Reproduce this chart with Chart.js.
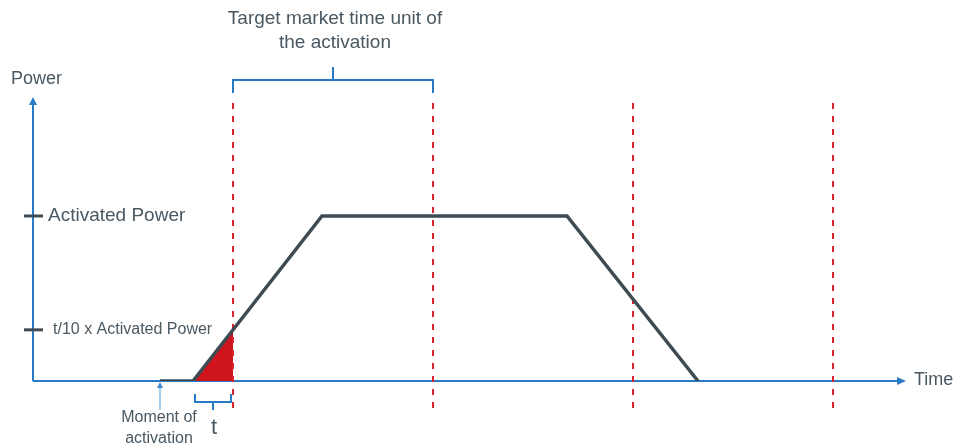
<!DOCTYPE html>
<html>
<head>
<meta charset="utf-8">
<script src="https://cdn.jsdelivr.net/npm/chart.js@4/dist/chart.umd.min.js"></script>
<style>
  html, body { margin: 0; padding: 0; background: #fff; }
  #wrap { width: 957px; height: 448px; }
</style>
</head>
<body>
<div id="wrap"><canvas id="diagram"></canvas></div>
<script>
// ===== Dados do diagrama (unidades de tempo / fração da potência ativada) =====
const timeUnitBounds = [1, 2, 3, 4];
const powerTime = [0.635, 0.8, 1.445, 2.67, 3.325];
const powerValue = [0, 0, 1, 1, 0];
const rampTime = [0.8, 1, 1];
const rampValue = [0, 0.31, 0];
const dashedRange = [-0.164, 1.685];
const levelValues = [1, 0.31];
const levelLabels = ['Activated Power', 't/10 x Activated Power'];
const activationTime = 0.635;
const targetUnit = [1, 2];
const tInterval = [0.81, 0.99];

const TEXT = '#4a5862';
const BLUE = '#2a7bc6';
const LINE = '#3e4b52';
const RED = '#d9232e';
const FONT = "'Liberation Sans', Arial, sans-serif";

function toPoints(xs, ys) {
    return xs.map((x, i) => ({ x: x, y: ys[i] }));
}

const datasets = [];

// Linha de potência
datasets.push({
    data: toPoints(powerTime, powerValue),
    borderColor: LINE,
    borderWidth: 3.5,
    pointRadius: 0,
    fill: false,
    order: 1
});

// Triângulo vermelho
datasets.push({
    data: toPoints(rampTime, rampValue),
    borderColor: 'rgba(0,0,0,0)',
    borderWidth: 0,
    backgroundColor: '#d0141e',
    pointRadius: 0,
    fill: 'origin',
    order: 3
});

// Linhas tracejadas verticais
timeUnitBounds.forEach(t => {
    datasets.push({
        data: [{ x: t, y: dashedRange[0] }, { x: t, y: dashedRange[1] }],
        borderColor: RED,
        borderWidth: 2,
        borderDash: [6, 7],
        pointRadius: 0,
        fill: false,
        clip: false,
        order: 2
    });
});

const diagramPlugin = {
    id: 'diagram',
    beforeDatasetsDraw(chart) {
        const ctx = chart.ctx;
        const a = chart.chartArea;
        ctx.save();
        ctx.strokeStyle = BLUE;
        ctx.fillStyle = BLUE;
        ctx.lineWidth = 2;
        // eixo y
        ctx.beginPath();
        ctx.moveTo(a.left, a.bottom);
        ctx.lineTo(a.left, a.top + 6);
        ctx.stroke();
        ctx.beginPath();
        ctx.moveTo(a.left, a.top);
        ctx.lineTo(a.left - 4, a.top + 8);
        ctx.lineTo(a.left + 4, a.top + 8);
        ctx.closePath();
        ctx.fill();
        // eixo x
        ctx.beginPath();
        ctx.moveTo(a.left, a.bottom);
        ctx.lineTo(a.right - 6, a.bottom);
        ctx.stroke();
        ctx.beginPath();
        ctx.moveTo(a.right + 1, a.bottom);
        ctx.lineTo(a.right - 8, a.bottom - 4);
        ctx.lineTo(a.right - 8, a.bottom + 4);
        ctx.closePath();
        ctx.fill();
        ctx.restore();
    },
    afterDatasetsDraw(chart) {
        const ctx = chart.ctx;
        const a = chart.chartArea;
        const xs = chart.scales.x;
        const ys = chart.scales.y;
        ctx.save();

        // marcas no eixo y + textos
        ctx.strokeStyle = LINE;
        ctx.lineWidth = 3;
        ctx.fillStyle = TEXT;
        ctx.textBaseline = 'middle';
        ctx.textAlign = 'left';
        levelValues.forEach((v, i) => {
            const py = ys.getPixelForValue(v);
            ctx.beginPath();
            ctx.moveTo(a.left - 9, py);
            ctx.lineTo(a.left + 10, py);
            ctx.stroke();
            ctx.font = (i === 0 ? '19px ' : '16px ') + FONT;
            ctx.fillText(levelLabels[i], a.left + (i === 0 ? 15 : 20), py);
        });

        // títulos dos eixos
        ctx.font = '18px ' + FONT;
        ctx.fillText('Power', 11, a.top - 18);
        ctx.fillText('Time', a.right + 9, a.bottom - 1);

        // chave superior
        const bx1 = xs.getPixelForValue(targetUnit[0]);
        const bx2 = xs.getPixelForValue(targetUnit[1]);
        const by = a.top - 17;
        ctx.strokeStyle = BLUE;
        ctx.lineWidth = 2;
        ctx.beginPath();
        ctx.moveTo(bx1, by + 13);
        ctx.lineTo(bx1, by);
        ctx.lineTo(bx2, by);
        ctx.lineTo(bx2, by + 13);
        ctx.moveTo((bx1 + bx2) / 2, by);
        ctx.lineTo((bx1 + bx2) / 2, by - 13);
        ctx.stroke();

        ctx.textAlign = 'center';
        ctx.font = '19px ' + FONT;
        ctx.fillText('Target market time unit of', (bx1 + bx2) / 2 + 2, 19);
        ctx.fillText('the activation', (bx1 + bx2) / 2 + 2, 43);

        // chave do t
        const tx1 = xs.getPixelForValue(tInterval[0]);
        const tx2 = xs.getPixelForValue(tInterval[1]);
        const ty = a.bottom + 21;
        ctx.beginPath();
        ctx.moveTo(tx1, ty - 8);
        ctx.lineTo(tx1, ty);
        ctx.lineTo(tx2, ty);
        ctx.lineTo(tx2, ty - 8);
        ctx.moveTo((tx1 + tx2) / 2, ty);
        ctx.lineTo((tx1 + tx2) / 2, ty + 8);
        ctx.stroke();
        ctx.font = '22px ' + FONT;
        ctx.fillText('t', (tx1 + tx2) / 2 + 1, a.bottom + 47);

        // momento da ativação
        const mx = xs.getPixelForValue(activationTime);
        ctx.strokeStyle = '#4a9ad8';
        ctx.fillStyle = '#3a8ad0';
        ctx.lineWidth = 1;
        ctx.beginPath();
        ctx.moveTo(mx, a.bottom + 29);
        ctx.lineTo(mx, a.bottom + 5);
        ctx.stroke();
        ctx.beginPath();
        ctx.moveTo(mx, a.bottom + 1);
        ctx.lineTo(mx - 3, a.bottom + 7);
        ctx.lineTo(mx + 3, a.bottom + 7);
        ctx.closePath();
        ctx.fill();
        ctx.fillStyle = TEXT;
        ctx.font = '16px ' + FONT;
        ctx.fillText('Moment of', mx - 1, a.bottom + 37);
        ctx.fillText('activation', mx - 1, a.bottom + 58);

        ctx.restore();
    }
};

new Chart(document.getElementById('diagram'), {
    type: 'line',
    data: { datasets: datasets },
    options: {
        responsive: true,
        maintainAspectRatio: false,
        animation: false,
        layout: { padding: { left: 33, right: 52, top: 97, bottom: 67 } },
        plugins: {
            legend: { display: false },
            tooltip: { enabled: false }
        },
        elements: { line: { tension: 0, borderCapStyle: 'butt', borderJoinStyle: 'miter' } },
        scales: {
            x: { type: 'linear', min: 0, max: 4.36, display: false },
            y: { type: 'linear', min: 0, max: 1.721, display: false }
        }
    },
    plugins: [diagramPlugin]
});
</script>
</body>
</html>
